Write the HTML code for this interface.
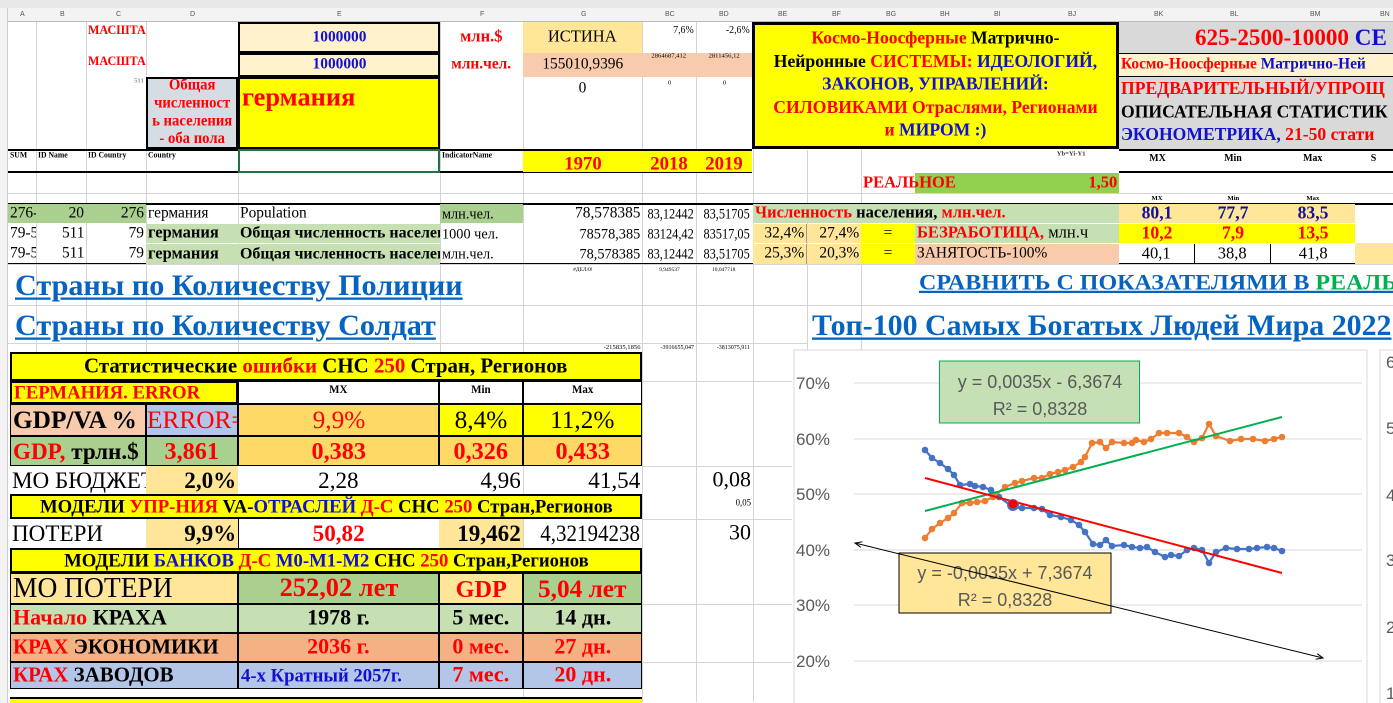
<!DOCTYPE html>
<html><head><meta charset="utf-8"><style>
*{margin:0;padding:0;box-sizing:border-box}
body{width:1393px;height:703px;overflow:hidden;background:#fff;position:relative;font-family:"Liberation Serif","Noto Serif CJK SC",serif}
.c{position:absolute;display:flex;align-items:center;justify-content:center;overflow:hidden;white-space:nowrap;font-weight:bold;color:#000}
.l{justify-content:flex-start;padding-left:2px}
.r{justify-content:flex-end;padding-right:2px}
.t{align-items:flex-start}
.b{border:1px solid #000}
.n{font-weight:normal}
i{font-style:normal;display:inline-block;transform:scale(1.1,1.12)}
.l i{transform-origin:left center}.r i{transform-origin:right center}
.t i{transform-origin:center top}
.l.t i{transform-origin:left top}.r.t i{transform-origin:right top}
.R{color:#f00}.B{color:#1010d0}.G{color:#00b050}
.vl{position:absolute;width:1px;background:#d4d4d4}
.hl{position:absolute;height:1px;background:#d4d4d4}
</style></head><body>
<div style="position:absolute;left:0;top:0;width:1393px;height:8px;background:#e8e8e8"></div>
<div style="position:absolute;left:0;top:8px;width:1393px;height:14px;background:#f3f3f3;border-bottom:1px solid #bbb"></div>
<div style="position:absolute;left:0;top:8px;width:8px;height:695px;background:#f3f3f3;border-right:1px solid #ccc"></div>
<div style="position:absolute;left:0;top:11px;width:1393px;font:7px 'Liberation Sans',sans-serif;color:#555">
<span style="position:absolute;left:20px">A</span><span style="position:absolute;left:60px">B</span><span style="position:absolute;left:116px">C</span><span style="position:absolute;left:190px">D</span><span style="position:absolute;left:337px">E</span><span style="position:absolute;left:480px">F</span><span style="position:absolute;left:581px">G</span><span style="position:absolute;left:665px">BC</span><span style="position:absolute;left:719px">BD</span><span style="position:absolute;left:778px">BE</span><span style="position:absolute;left:832px">BF</span><span style="position:absolute;left:886px">BG</span><span style="position:absolute;left:940px">BH</span><span style="position:absolute;left:994px">BI</span><span style="position:absolute;left:1068px">BJ</span><span style="position:absolute;left:1154px">BK</span><span style="position:absolute;left:1230px">BL</span><span style="position:absolute;left:1310px">BM</span><span style="position:absolute;left:1380px">BN</span></div>
<div class="vl" style="left:36px;top:22px;height:330px"></div><div class="vl" style="left:86px;top:22px;height:330px"></div><div class="vl" style="left:146px;top:22px;height:330px"></div><div class="vl" style="left:238px;top:22px;height:330px"></div><div class="vl" style="left:440px;top:22px;height:330px"></div><div class="vl" style="left:523px;top:22px;height:680px"></div><div class="vl" style="left:642px;top:22px;height:680px"></div><div class="vl" style="left:696px;top:22px;height:680px"></div><div class="vl" style="left:753px;top:22px;height:680px"></div><div class="vl" style="left:807px;top:150px;height:200px"></div><div class="vl" style="left:861px;top:150px;height:200px"></div>
<div class="hl" style="left:8px;top:193px;width:1385px"></div><div class="hl" style="left:8px;top:305px;width:1385px"></div><div class="hl" style="left:8px;top:343px;width:800px"></div><div class="hl" style="left:8px;top:264px;width:1385px"></div><div class="hl" style="left:642px;top:381px;width:150px"></div><div class="hl" style="left:642px;top:466px;width:150px"></div><div class="hl" style="left:642px;top:519px;width:150px"></div><div class="hl" style="left:642px;top:604px;width:150px"></div><div class="hl" style="left:642px;top:662px;width:150px"></div>

<div class="c l t R" style="left:86px;top:24px;width:60px;height:20px;font-size:11px"><i>МАСШТАБ:</i></div>
<div class="c l t R" style="left:86px;top:55px;width:60px;height:20px;font-size:11px"><i>МАСШТАБ:</i></div>
<div class="c b" style="left:238px;top:22px;width:202px;height:31px;background:#fff2cc;border-width:2px;font-size:14px;color:#1010d0"><i>1000000</i></div>
<div class="c b" style="left:238px;top:53px;width:202px;height:24px;background:#fff2cc;border-width:2px;font-size:14px;color:#1010d0"><i>1000000</i></div>
<div class="c R" style="left:440px;top:22px;width:83px;height:31px;font-size:15px"><i>млн.$</i></div>
<div class="c R" style="left:440px;top:53px;width:83px;height:24px;font-size:14px"><i>млн.чел.</i></div>
<div class="c n" style="left:523px;top:22px;width:119px;height:31px;background:#ffe699;font-size:15px"><i>ИСТИНА</i></div>
<div class="c n" style="left:523px;top:53px;width:119px;height:24px;background:#f8cbad;font-size:14px"><i>155010,9396</i></div>
<div class="c n r t" style="left:642px;top:24px;width:54px;height:20px;font-size:9px"><i>7,6%</i></div>
<div class="c n r t" style="left:696px;top:24px;width:56px;height:20px;font-size:9px"><i>-2,6%</i></div>
<div class="c n t" style="left:642px;top:53px;width:54px;height:24px;background:#f8cbad;font-size:6px"><i>2864687,412</i></div>
<div class="c n t" style="left:696px;top:53px;width:56px;height:24px;background:#f8cbad;font-size:6px"><i>2811456,12</i></div>
<div class="c n r t" style="left:86px;top:78px;width:60px;height:10px;font-size:6px;color:#555"><i>511</i></div>
<div class="c R b" style="left:146px;top:77px;width:92px;height:72px;background:#d6dce4;border-width:2px;font-size:14px;line-height:16px;text-align:center"><i style="transform:scale(1.05,1.12)">Общая<br>численност<br>ь населения<br>- оба пола</i></div>
<div class="c l t R b" style="left:238px;top:77px;width:202px;height:72px;background:#ff0;border-width:2px;font-size:24px;padding-top:4px"><i>германия</i></div>
<div class="c n t" style="left:523px;top:80px;width:119px;height:20px;font-size:14px"><i>0</i></div>
<div class="c n t" style="left:642px;top:80px;width:54px;height:10px;font-size:6px"><i>0</i></div>
<div class="c n t" style="left:696px;top:80px;width:56px;height:10px;font-size:6px"><i>0</i></div>
<div style="position:absolute;left:8px;top:149px;width:744px;height:24px;border-top:2px solid #000;border-bottom:2px solid #000"></div>
<div class="c l t" style="left:8px;top:151px;width:28px;height:12px;font-size:7px"><i>SUM</i></div>
<div class="c l t" style="left:36px;top:151px;width:50px;height:12px;font-size:7px"><i>ID Name</i></div>
<div class="c l t" style="left:86px;top:151px;width:60px;height:12px;font-size:7px"><i>ID Country</i></div>
<div class="c l t" style="left:146px;top:151px;width:92px;height:12px;font-size:7px"><i>Country</i></div>
<div class="c l t" style="left:440px;top:151px;width:83px;height:12px;font-size:7px"><i>IndicatorName</i></div>
<div style="position:absolute;left:238px;top:149px;width:202px;height:24px;border:2px solid #217346"></div>
<div class="c R" style="left:523px;top:151px;width:119px;height:21px;background:#ff0;font-size:17px;padding-top:4px"><i>1970</i></div>
<div class="c R" style="left:642px;top:151px;width:54px;height:21px;background:#ff0;font-size:17px;padding-top:4px"><i>2018</i></div>
<div class="c R" style="left:696px;top:151px;width:56px;height:21px;background:#ff0;font-size:17px;padding-top:4px"><i>2019</i></div>

<div class="c b" style="left:752px;top:22px;width:367px;height:127px;background:#ff0;border-width:3px;font-size:16px;line-height:20.5px;text-align:center"><i><span class="R">Космо-Ноосферные</span> Матрично-<br>Нейронные <span class="R">СИСТЕМЫ:</span> <span class="B">ИДЕОЛОГИЙ,</span><br><span class="B">ЗАКОНОВ, УПРАВЛЕНИЙ:</span><br><span class="R">СИЛОВИКАМИ Отраслями, Регионами</span><br><span class="R">и</span> <span class="B">МИРОМ :)</span></i></div>
<div class="c l" style="left:1119px;top:22px;width:274px;height:31px;background:#d9d9d9;font-size:21px;padding-left:76px"><i><span class="R">625-2500-10000</span> <span class="B">СЕ</span></i></div>
<div class="c l" style="left:1119px;top:53px;width:274px;height:24px;background:#fff2cc;font-size:14px;border-top:1px solid #000;border-bottom:1px solid #000"><i><span class="R">Космо-Ноосферные</span> <span class="B">Матрично-Ней</span></i></div>
<div class="c l" style="left:1119px;top:77px;width:274px;height:72px;background:#d9d9d9;font-size:16px;line-height:20.5px;justify-content:flex-start"><i><span class="R">ПРЕДВАРИТЕЛЬНЫЙ/УПРОЩ</span><br>ОПИСАТЕЛЬНАЯ СТАТИСТИК<br><span class="B">ЭКОНОМЕТРИКА,</span> <span class="R">21-50 стати</span></i></div>
<div style="position:absolute;left:1119px;top:149px;width:274px;height:24px;border-top:2px solid #000;border-bottom:2px solid #000"></div>
<div class="c t" style="left:1119px;top:152px;width:76px;height:12px;font-size:9px"><i>MX</i></div>
<div class="c t" style="left:1195px;top:152px;width:76px;height:12px;font-size:9px"><i>Min</i></div>
<div class="c t" style="left:1271px;top:152px;width:84px;height:12px;font-size:9px"><i>Max</i></div>
<div class="c t" style="left:1355px;top:152px;width:38px;height:12px;font-size:9px"><i>S</i></div>
<div class="c t" style="left:1023px;top:151px;width:96px;height:12px;font-size:6px;color:#333"><i>Yb=Yi-Y1</i></div>
<div class="c l R" style="left:915px;top:173px;width:204px;height:20px;background:#92d050"></div>
<div class="c l R" style="left:861px;top:173px;width:130px;height:20px;font-size:15px"><i>РЕАЛЬНОЕ</i></div>
<div class="c r R" style="left:1023px;top:173px;width:96px;height:20px;font-size:15px"><i>1,50</i></div>

<div style="position:absolute;left:8px;top:203px;width:1385px;height:61px;border-top:2px solid #000;border-bottom:1px solid #000"></div>
<div class="c l n" style="left:8px;top:204px;width:28px;height:19px;background:#a9d08e;font-size:14px"><i>276-2</i></div>
<div class="c r n" style="left:36px;top:204px;width:50px;height:19px;background:#a9d08e;font-size:14px"><i>20</i></div>
<div class="c r n" style="left:86px;top:204px;width:60px;height:19px;background:#a9d08e;font-size:14px"><i>276</i></div>
<div class="c l n" style="left:146px;top:204px;width:92px;height:19px;font-size:14px"><i>германия</i></div>
<div class="c l n" style="left:238px;top:204px;width:202px;height:19px;font-size:14px"><i>Population</i></div>
<div class="c l n" style="left:440px;top:204px;width:83px;height:19px;background:#a9d08e;font-size:13px"><i>млн.чел.</i></div>
<div class="c r n" style="left:523px;top:204px;width:119px;height:19px;font-size:14px"><i>78,578385</i></div>
<div class="c r n" style="left:642px;top:204px;width:54px;height:19px;font-size:13px"><i style="transform:scale(.95,1.12)">83,12442</i></div>
<div class="c r n" style="left:696px;top:204px;width:56px;height:19px;font-size:13px"><i style="transform:scale(.95,1.12)">83,51705</i></div>
<div class="c l" style="left:753px;top:204px;width:366px;height:19px;background:#c6e0b4;font-size:15px"><i><span class="R">Численность</span> населения, <span class="R">млн.чел.</span></i></div>
<div class="c" style="left:1119px;top:204px;width:76px;height:19px;background:#ffe699;font-size:16px;color:#1010a0"><i>80,1</i></div>
<div class="c" style="left:1195px;top:204px;width:76px;height:19px;background:#ffe699;font-size:16px;color:#1010a0"><i>77,7</i></div>
<div class="c" style="left:1271px;top:204px;width:84px;height:19px;background:#ffe699;font-size:16px;color:#1010a0"><i>83,5</i></div>
<div class="c" style="left:1119px;top:195px;width:76px;height:8px;font-size:6px"><i>MX</i></div>
<div class="c" style="left:1195px;top:195px;width:76px;height:8px;font-size:6px"><i>Min</i></div>
<div class="c" style="left:1271px;top:195px;width:84px;height:8px;font-size:6px"><i>Max</i></div>

<div class="c l n" style="left:8px;top:224px;width:28px;height:19px;font-size:14px"><i>79-51</i></div>
<div class="c r n" style="left:36px;top:224px;width:50px;height:19px;font-size:14px"><i>511</i></div>
<div class="c r n" style="left:86px;top:224px;width:60px;height:19px;font-size:14px"><i>79</i></div>
<div class="c l" style="left:146px;top:224px;width:92px;height:19px;background:#c6e0b4;font-size:15px"><i>германия</i></div>
<div class="c l" style="left:238px;top:224px;width:202px;height:19px;background:#c6e0b4;font-size:14.5px"><i>Общая численность населен</i></div>
<div class="c l n" style="left:440px;top:224px;width:83px;height:19px;font-size:13px"><i>1000 чел.</i></div>
<div class="c r n" style="left:523px;top:224px;width:119px;height:19px;font-size:13px"><i>78578,385</i></div>
<div class="c r n" style="left:642px;top:224px;width:54px;height:19px;font-size:13px"><i style="transform:scale(.95,1.12)">83124,42</i></div>
<div class="c r n" style="left:696px;top:224px;width:56px;height:19px;font-size:13px"><i style="transform:scale(.95,1.12)">83517,05</i></div>
<div class="c r n" style="left:753px;top:224px;width:54px;height:19px;background:#ffe699;font-size:14px;border-right:1px solid #999"><i>32,4%</i></div>
<div class="c r n" style="left:807px;top:224px;width:54px;height:19px;background:#ffe699;font-size:14px"><i>27,4%</i></div>
<div class="c n" style="left:861px;top:224px;width:54px;height:19px;background:#ff0;font-size:14px"><i>=</i></div>
<div class="c l" style="left:915px;top:224px;width:204px;height:19px;background:#c6e0b4;font-size:15px"><i><span class="R">БЕЗРАБОТИЦА,</span> <span style="font-weight:normal">млн.ч</span></i></div>
<div class="c R" style="left:1119px;top:224px;width:76px;height:19px;background:#ff0;font-size:16px"><i>10,2</i></div>
<div class="c R" style="left:1195px;top:224px;width:76px;height:19px;background:#ff0;font-size:16px"><i>7,9</i></div>
<div class="c R" style="left:1271px;top:224px;width:84px;height:19px;background:#ff0;font-size:16px"><i>13,5</i></div>

<div class="c l n" style="left:8px;top:244px;width:28px;height:20px;font-size:14px"><i>79-5</i></div>
<div class="c r n" style="left:36px;top:244px;width:50px;height:20px;font-size:14px"><i>511</i></div>
<div class="c r n" style="left:86px;top:244px;width:60px;height:20px;font-size:14px"><i>79</i></div>
<div class="c l" style="left:146px;top:244px;width:92px;height:20px;background:#c6e0b4;font-size:15px"><i>германия</i></div>
<div class="c l" style="left:238px;top:244px;width:202px;height:20px;background:#c6e0b4;font-size:14.5px"><i>Общая численность населен</i></div>
<div class="c l n" style="left:440px;top:244px;width:83px;height:20px;font-size:13px"><i>млн.чел.</i></div>
<div class="c r n" style="left:523px;top:244px;width:119px;height:20px;font-size:13px"><i>78,578385</i></div>
<div class="c r n" style="left:642px;top:244px;width:54px;height:20px;font-size:13px"><i style="transform:scale(.95,1.12)">83,12442</i></div>
<div class="c r n" style="left:696px;top:244px;width:56px;height:20px;font-size:13px"><i style="transform:scale(.95,1.12)">83,51705</i></div>
<div class="c r n" style="left:753px;top:244px;width:54px;height:20px;background:#ffe699;font-size:14px;border-right:1px solid #999"><i>25,3%</i></div>
<div class="c r n" style="left:807px;top:244px;width:54px;height:20px;background:#ffe699;font-size:14px"><i>20,3%</i></div>
<div class="c n" style="left:861px;top:244px;width:54px;height:20px;background:#ff0;font-size:14px"><i>=</i></div>
<div class="c l n" style="left:915px;top:244px;width:204px;height:20px;background:#f8cbad;font-size:14px"><i>ЗАНЯТОСТЬ-100%</i></div>
<div class="c n" style="left:1119px;top:244px;width:76px;height:20px;font-size:15px;border-right:1px solid #000"><i>40,1</i></div>
<div class="c n" style="left:1195px;top:244px;width:76px;height:20px;font-size:15px;border-right:1px solid #000"><i>38,8</i></div>
<div class="c n" style="left:1271px;top:244px;width:84px;height:20px;font-size:15px"><i>41,8</i></div>
<div class="c" style="left:1355px;top:243px;width:38px;height:21px;background:#ffe699"></div>
<div class="c n" style="left:523px;top:266px;width:119px;height:8px;font-size:5px"><i>#ДЕЛ/0!</i></div>
<div class="c n" style="left:642px;top:266px;width:54px;height:8px;font-size:5px"><i>9,949537</i></div>
<div class="c n" style="left:696px;top:266px;width:56px;height:8px;font-size:5px"><i>10,047718</i></div>

<div class="c l" style="left:13px;top:268px;width:600px;height:36px;font-size:26px;color:#0563c1;text-decoration:underline"><i style="transform:scale(1.16,1.15)">Страны по Количеству Полиции</i></div>
<div class="c l" style="left:13px;top:308px;width:600px;height:36px;font-size:26px;color:#0563c1;text-decoration:underline"><i style="transform:scale(1.16,1.15)">Страны по Количеству Солдат</i></div>
<div class="c l" style="left:917px;top:268px;width:476px;height:30px;font-size:20px;color:#0563c1;text-decoration:underline"><i style="transform:scale(1.2,1.12)">СРАВНИТЬ С ПОКАЗАТЕЛЯМИ В <span class="G">РЕАЛЬН</span></i></div>
<div class="c l" style="left:810px;top:308px;width:583px;height:36px;font-size:26px;color:#0563c1;text-decoration:underline"><i style="transform:scale(1.15,1.15)">Топ-100 Самых Богатых Людей Мира 2022</i></div>
<div class="c r n" style="left:523px;top:344px;width:119px;height:8px;font-size:6px"><i>-215835,1856</i></div>
<div class="c r n" style="left:642px;top:344px;width:54px;height:8px;font-size:6px"><i style="transform:none">-3916655,047</i></div>
<div class="c r n" style="left:696px;top:344px;width:56px;height:8px;font-size:6px"><i style="transform:none">-3813075,911</i></div>

<div class="c b" style="left:10px;top:352px;width:632px;height:29px;background:#ff0;border-width:2px;font-size:19px"><i>Статистические <span class="R">ошибки</span> СНС <span class="R">250</span> Стран, Регионов</i></div>
<div class="c l R b" style="left:10px;top:381px;width:228px;height:23px;background:#ff0;font-size:17px;border-width:2px"><i>ГЕРМАНИЯ. ERROR</i></div>
<div class="c t b" style="left:238px;top:381px;width:201px;height:23px;font-size:10px;padding-top:2px"><i>MX</i></div>
<div class="c t b" style="left:439px;top:381px;width:84px;height:23px;font-size:10px;padding-top:2px"><i>Min</i></div>
<div class="c t b" style="left:523px;top:381px;width:119px;height:23px;font-size:10px;padding-top:2px"><i>Max</i></div>

<div class="c l b" style="left:10px;top:404px;width:136px;height:32px;background:#f8cbad;font-size:23px"><i>GDP/VA %</i></div>
<div class="c l n R b" style="left:146px;top:404px;width:92px;height:32px;background:#b4c6e7;font-size:23px;padding-left:0"><i>ERROR=</i></div>
<div class="c n R b" style="left:238px;top:404px;width:201px;height:32px;background:#ffd966;font-size:23px"><i>9,9%</i></div>
<div class="c n b" style="left:439px;top:404px;width:84px;height:32px;background:#ff0;font-size:23px"><i>8,4%</i></div>
<div class="c n b" style="left:523px;top:404px;width:119px;height:32px;background:#ff0;font-size:23px"><i>11,2%</i></div>

<div class="c l b" style="left:10px;top:436px;width:136px;height:30px;background:#a9d08e;font-size:21px"><i><span class="R">GDP,</span> трлн.$</i></div>
<div class="c R b" style="left:146px;top:436px;width:92px;height:30px;background:#a9d08e;font-size:22px"><i>3,861</i></div>
<div class="c R b" style="left:238px;top:436px;width:201px;height:30px;background:#ffd966;font-size:22px"><i>0,383</i></div>
<div class="c R b" style="left:439px;top:436px;width:84px;height:30px;background:#ffd966;font-size:22px"><i>0,326</i></div>
<div class="c R b" style="left:523px;top:436px;width:119px;height:30px;background:#ffd966;font-size:22px"><i>0,433</i></div>

<div class="c l n" style="left:10px;top:466px;width:136px;height:28px;font-size:21px"><i>МО БЮДЖЕТ</i></div>
<div class="c r" style="left:146px;top:466px;width:92px;height:28px;background:#ffe699;font-size:21px"><i>2,0%</i></div>
<div class="c n" style="left:238px;top:466px;width:201px;height:28px;font-size:21px"><i>2,28</i></div>
<div class="c r n" style="left:439px;top:466px;width:84px;height:28px;font-size:21px"><i>4,96</i></div>
<div class="c r n" style="left:523px;top:466px;width:119px;height:28px;font-size:21px"><i>41,54</i></div>
<div class="c r n" style="left:696px;top:466px;width:57px;height:28px;font-size:20px"><i>0,08</i></div>
<div class="c r n" style="left:696px;top:496px;width:57px;height:12px;font-size:8px"><i>0,05</i></div>

<div class="c b" style="left:10px;top:494px;width:632px;height:25px;background:#ff0;border-width:2px;font-size:17px"><i>МОДЕЛИ <span class="R">УПР-НИЯ</span> VA-<span class="B">ОТРАСЛЕЙ</span> <span class="R">Д-С</span> СНС <span class="R">250</span> Стран,Регионов</i></div>
<div class="c l n" style="left:10px;top:519px;width:136px;height:29px;font-size:21px"><i>ПОТЕРИ</i></div>
<div class="c r" style="left:146px;top:519px;width:92px;height:29px;background:#ffe699;font-size:21px"><i>9,9%</i></div>
<div class="c R" style="left:238px;top:519px;width:201px;height:29px;font-size:21px;border-left:1px solid #000"><i>50,82</i></div>
<div class="c r" style="left:439px;top:519px;width:84px;height:29px;background:#ffe699;font-size:21px"><i>19,462</i></div>
<div class="c r n" style="left:523px;top:519px;width:119px;height:29px;font-size:21px"><i style="transform:scale(1,1.12)">4,32194238</i></div>
<div class="c r n" style="left:696px;top:519px;width:57px;height:29px;font-size:20px"><i>30</i></div>

<div class="c b" style="left:10px;top:548px;width:632px;height:25px;background:#ff0;border-width:2px;font-size:17px"><i>МОДЕЛИ <span class="B">БАНКОВ</span> <span class="R">Д-С</span> <span class="B">М0-М1-М2</span> СНС <span class="R">250</span> Стран,Регионов</i></div>
<div class="c l n b" style="left:10px;top:573px;width:228px;height:31px;background:#ffe699;font-size:25px"><i>МО ПОТЕРИ</i></div>
<div class="c R b" style="left:238px;top:573px;width:201px;height:31px;background:#a9d08e;font-size:24px"><i>252,02 лет</i></div>
<div class="c R b" style="left:439px;top:573px;width:84px;height:31px;background:#ffe699;font-size:22px"><i>GDP</i></div>
<div class="c R b" style="left:523px;top:573px;width:119px;height:31px;background:#a9d08e;font-size:23px"><i>5,04 лет</i></div>

<div class="c l b" style="left:10px;top:604px;width:228px;height:29px;background:#c6e0b4;font-size:20px"><i><span class="R">Начало</span> КРАХА</i></div>
<div class="c b" style="left:238px;top:604px;width:201px;height:29px;background:#c6e0b4;font-size:20px"><i>1978 г.</i></div>
<div class="c b" style="left:439px;top:604px;width:84px;height:29px;background:#c6e0b4;font-size:20px"><i>5 мес.</i></div>
<div class="c b" style="left:523px;top:604px;width:119px;height:29px;background:#c6e0b4;font-size:20px"><i>14 дн.</i></div>

<div class="c l b" style="left:10px;top:633px;width:228px;height:29px;background:#f4b183;font-size:19px"><i><span class="R">КРАХ</span> ЭКОНОМИКИ</i></div>
<div class="c R b" style="left:238px;top:633px;width:201px;height:29px;background:#f4b183;font-size:20px"><i>2036 г.</i></div>
<div class="c R b" style="left:439px;top:633px;width:84px;height:29px;background:#f4b183;font-size:20px"><i>0 мес.</i></div>
<div class="c R b" style="left:523px;top:633px;width:119px;height:29px;background:#f4b183;font-size:20px"><i>27 дн.</i></div>

<div class="c l b" style="left:10px;top:662px;width:228px;height:27px;background:#b4c6e7;font-size:19px"><i><span class="R">КРАХ</span> ЗАВОДОВ</i></div>
<div class="c l B b" style="left:238px;top:662px;width:201px;height:27px;background:#b4c6e7;font-size:17px"><i>4-х Кратный 2057г.</i></div>
<div class="c R b" style="left:439px;top:662px;width:84px;height:27px;background:#b4c6e7;font-size:20px"><i>7 мес.</i></div>
<div class="c R b" style="left:523px;top:662px;width:119px;height:27px;background:#b4c6e7;font-size:20px"><i>20 дн.</i></div>
<div style="position:absolute;left:10px;top:697px;width:632px;height:6px;background:#ff0;border-top:2px solid #000"></div>

<svg width="1393" height="703" style="position:absolute;left:0;top:0" xmlns="http://www.w3.org/2000/svg">
<defs>
<marker id="mb" markerWidth="4" markerHeight="4" refX="2" refY="2"><circle cx="2" cy="2" r="1.5" fill="#4472c4"/></marker>
<marker id="mo" markerWidth="4" markerHeight="4" refX="2" refY="2"><circle cx="2" cy="2" r="1.5" fill="#ed7d31"/></marker>
<marker id="ar" markerWidth="8" markerHeight="6" refX="7" refY="3" orient="auto"><path d="M0,0 L7,3 L0,6" fill="none" stroke="#000" stroke-width="1"/></marker>
<marker id="ar2" markerWidth="8" markerHeight="6" refX="1" refY="3" orient="auto"><path d="M8,0 L1,3 L8,6" fill="none" stroke="#000" stroke-width="1"/></marker>
</defs>
<rect x="794" y="350" width="573" height="360" fill="#fff" stroke="#d9d9d9"/>
<rect x="1380" y="350" width="20" height="360" fill="#fff" stroke="#d9d9d9"/>
<g stroke="#d9d9d9" stroke-width="1">
<line x1="854" y1="383" x2="1362" y2="383"/><line x1="854" y1="439" x2="1362" y2="439"/><line x1="854" y1="494" x2="1362" y2="494"/><line x1="854" y1="550" x2="1362" y2="550"/><line x1="854" y1="605" x2="1362" y2="605"/><line x1="854" y1="661" x2="1362" y2="661"/></g>
<g font-family="Liberation Sans, sans-serif" font-size="17" fill="#595959">
<text x="796" y="389">70%</text><text x="796" y="445">60%</text><text x="796" y="500">50%</text><text x="796" y="556">40%</text><text x="796" y="611">30%</text><text x="796" y="667">20%</text>
<text x="1386" y="368">6</text><text x="1386" y="434">5</text><text x="1386" y="501">4</text><text x="1386" y="566">3</text><text x="1386" y="633">2</text><text x="1386" y="699">1</text></g>
<polyline fill="none" stroke="#4472c4" stroke-width="2.2" stroke-linejoin="round" marker-start="url(#mb)" marker-mid="url(#mb)" marker-end="url(#mb)" points="925,450 932,458 940,463 948,469 954,475 960,485 970,484 975,486 983,487 991,490 999,497 1013,507 1022,508 1034,508 1042,509 1050,515 1061,517 1071,520 1079,525 1085,532 1093,544 1100,545 1106,540 1112,546 1124,545 1132,547 1140,548 1147,547 1155,552 1165,557 1171,555 1179,556 1187,550 1194,548 1202,550 1209,563 1216,552 1226,548 1237,549 1249,549 1257,548 1267,547 1274,548 1282,551"/>
<polyline fill="none" stroke="#ed7d31" stroke-width="2.2" stroke-linejoin="round" marker-start="url(#mo)" marker-mid="url(#mo)" marker-end="url(#mo)" points="925,538 932,529 940,523 948,518 954,513 962,503 970,503 977,502 985,501 993,497 1005,487 1015,483 1022,481 1034,478 1042,478 1050,474 1058,472 1065,470 1073,467 1081,462 1085,457 1092,443 1100,442 1106,448 1112,442 1124,443 1132,443 1136,440 1144,442 1151,439 1159,433 1167,433 1179,433 1187,437 1194,442 1202,438 1209,424 1216,436 1230,441 1241,439 1253,439 1265,441 1274,439 1282,437"/>
<line x1="925" y1="511" x2="1282" y2="417" stroke="#00b050" stroke-width="2"/>
<line x1="925" y1="478" x2="1282" y2="573" stroke="#f00" stroke-width="2"/>
<circle cx="1013" cy="505" r="6" fill="#4472c4"/><circle cx="1013" cy="504" r="4.5" fill="#f00"/>
<rect x="939.5" y="361" width="200" height="62" fill="#c5e0b4" stroke="#00b050"/>
<text x="1040" y="388" text-anchor="middle" font-family="Liberation Sans, sans-serif" font-size="18" fill="#595959">y = 0,0035x - 6,3674</text>
<text x="1040" y="415" text-anchor="middle" font-family="Liberation Sans, sans-serif" font-size="18" fill="#595959">R² = 0,8328</text>
<rect x="899" y="553" width="212" height="60" fill="#ffe699" stroke="#000"/>
<text x="1005" y="579" text-anchor="middle" font-family="Liberation Sans, sans-serif" font-size="18" fill="#595959">y = -0,0035x + 7,3674</text>
<text x="1005" y="606" text-anchor="middle" font-family="Liberation Sans, sans-serif" font-size="18" fill="#595959">R² = 0,8328</text>
<line x1="855" y1="543" x2="1323" y2="658" stroke="#000" stroke-width="1" marker-start="url(#ar2)" marker-end="url(#ar)"/>
</svg>
</body></html>
